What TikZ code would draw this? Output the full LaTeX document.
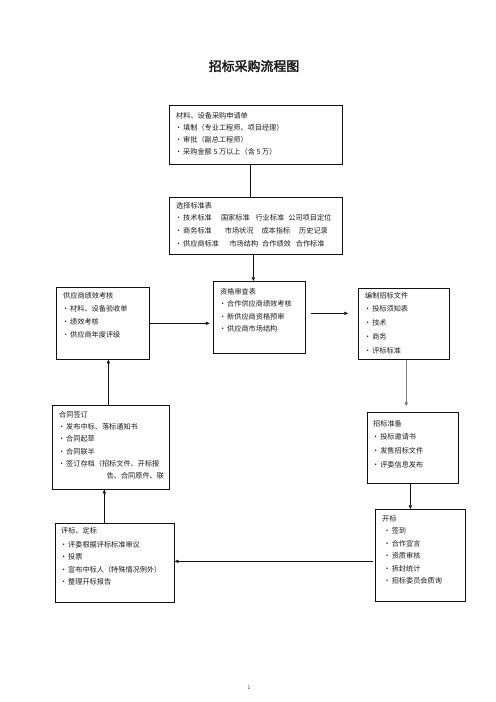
\documentclass[tikz,border=0pt]{standalone}
\usepackage{fontspec}
\setmainfont{Noto Sans CJK SC}
\newfontfamily\titlefont[FakeBold=2.5]{Noto Sans CJK SC}
\usetikzlibrary{arrows.meta,positioning,calc}
\definecolor{ink}     {HTML}{1A1A1A}
\definecolor{rule}    {HTML}{111111}
\definecolor{greyline}{HTML}{7F7F7F}
\newcommand{\itm}{\hspace*{1.5pt}\makebox[3pt]{·}\hspace{4pt}}

\begin{document}
\begin{tikzpicture}[x=1.2pt, y=-1.2pt,
  panel/.style={draw=rule, line width=0.8pt, anchor=north west, inner sep=0pt},
  boxsize/.style 2 args={minimum width=#1*1.2pt, minimum height=#2*1.2pt},
  body/.style={anchor=north west, inner sep=0pt, align=left, text=ink,
               font=\fontsize{8.6pt}{#1}\selectfont},
  body/.default=15pt,
  flow/.style={draw=rule, line width=0.8pt, -{Triangle[length=4.5pt,width=4pt]}}]
  \useasboundingbox (0,0) rectangle (496,702);
  \node[font=\titlefont\fontsize{15.5pt}{18pt}\selectfont, text=ink] (title) at (254,66) {招标采购流程图};
  % boxes
  \node[panel, boxsize={173}{59}] (req)  at (169,105) {};
  \node[panel, boxsize={173}{57}] (std)  at (169,197) {};
  \node[panel, boxsize={92}{72}]  (qual) at (213,281) {};
  \node[panel, boxsize={93}{72}]  (perf) at (56,287)  {};
  \node[panel, boxsize={91}{71}]  (doc)  at (358,288) {};
  \node[panel, boxsize={91}{71}]  (prep) at (367,412) {};
  \node[panel, boxsize={90}{92}]  (open) at (375,509) {};
  \node[panel, boxsize={119}{79}] (eval) at (55,523)  {};
  \node[panel, boxsize={117}{84}] (sign) at (52,405)  {};
  % texts
  \node[body=14.4pt] (reqtxt) at ([shift={(7,7)}]req.north west)
       {材料、设备采购申请单\\ \itm 填制（专业工程师、项目经理）\\ \itm 审批（副总工程师）\\ \itm 采购金额 5 万以上（含 5 万）};
  \node[body=15.2pt] (stdtxt) at ([shift={(7,5)}]std.north west)
       {选择标准表\\
        \itm 技术标准\hspace{11pt}国家标准\hspace{7pt}行业标准\hspace{5pt}公司项目定位\\
        \itm 商务标准\hspace{15.6pt}市场状况\hspace{9.6pt}成本指标\hspace{10.8pt}历史记录\\
        \itm 供应商标准\hspace{12.6pt}市场结构\hspace{4.8pt}合作绩效\hspace{6pt}合作标准};
  \node[body] (qualtxt) at ([shift={(7,7)}]qual.north west)
       {资格审查表\\ \itm 合作供应商绩效考核\\ \itm 新供应商资格预审\\ \itm 供应商市场结构};
  \node[body=15.6pt] (perftxt) at ([shift={(7,5)}]perf.north west)
       {供应商绩效考核\\ \itm 材料、设备验收单\\ \itm 绩效考核\\ \itm 供应商年度评级};
  \node[body=16.5pt] (doctxt) at ([shift={(7,4)}]doc.north west)
       {编制招标文件\\ \itm 投标须知表\\ \itm 技术\\ \itm 商务\\ \itm 评标标准};
  \node[body=16.5pt] (preptxt) at ([shift={(6,8)}]prep.north west)
       {招标准备\\ \itm 投标邀请书\\ \itm 发售招标文件\\ \itm 评委信息发布};
  \node[body] (opentxt) at ([shift={(7,6)}]open.north west)
       {开标\\ \hspace*{3pt}\itm 签到\\ \hspace*{3pt}\itm 合作宣言\\ \hspace*{3pt}\itm 资质审核\\ \hspace*{3pt}\itm 拆封统计\\ \hspace*{3pt}\itm 招标委员会质询};
  \node[body] (evaltxt) at ([shift={(6,4)}]eval.north west)
       {评标、定标\\[2pt] \itm 评委根据评标标准审议\\ \itm 投票\\ \itm 宣布中标人（特殊情况例外）\\ \itm 整理开标报告};
  \node[body=14.8pt] (signtxt) at ([shift={(7,6)}]sign.north west)
       {合同签订\\ \itm 发布中标、落标通知书\\ \itm 合同起草\\ \itm 合同联半\\ \itm 签订存档（招标文件、开标报\\ \hspace*{57pt}告、合同原件、联};
  % connectors
  \coordinate (s1) at ($(req.south)+(-5.5,0)$);
  \draw[draw=rule, line width=0.8pt] (s1) -- (s1 |- std.north);
  \coordinate (s2) at ($(std.south)+(-2.5,0)$);
  \draw[flow] (s2) -- (s2 |- qual.north);
  \draw[flow, shorten >=4pt] (perf.east) -- (perf.east -| qual.west);
  \coordinate (s3) at ($(qual.east)+(0,-4)$);
  \draw[flow, shorten <=6pt, shorten >=12pt] (s3) -- (s3 -| doc.west);
  \coordinate (s4) at ($(doc.south)+(2.5,0)$);
  \draw[flow, draw=greyline, shorten >=7pt] (s4) -- (s4 |- prep.north);
  \coordinate (s5) at ($(prep.south)+(-2.5,0)$);
  \draw[flow] (s5) -- (s5 |- open.north);
  \coordinate (s6) at ($(open.west)+(0,6)$);
  \draw[flow, shorten <=3pt] (s6) -- (s6 -| eval.east);
  \coordinate (s7) at ($(eval.north)+(-10.5,0)$);
  \draw[flow] (s7) -- (s7 |- sign.south);
  \coordinate (s8) at ($(sign.north)+(-2.5,0)$);
  \draw[flow] (s8) -- (s8 |- perf.south);
  \node[font=\fontsize{6pt}{7pt}\selectfont, text=ink] (pagenum) at (249,688) {1};
\end{tikzpicture}
\end{document}
